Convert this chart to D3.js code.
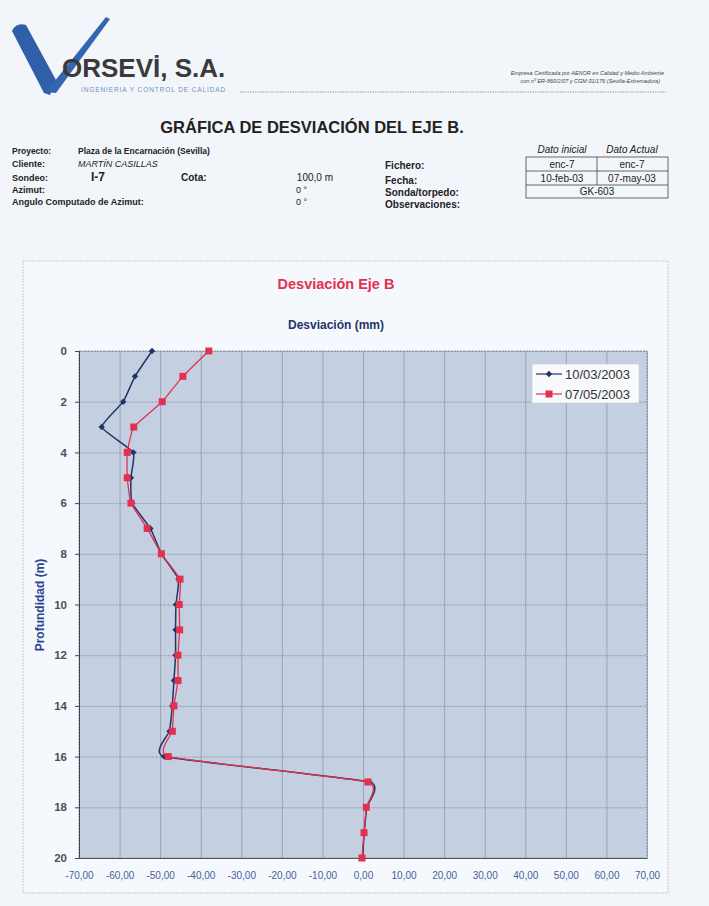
<!DOCTYPE html>
<html>
<head>
<meta charset="utf-8">
<script src="https://cdn.jsdelivr.net/npm/d3@7"></script>
<style>
  body { margin: 0; background: #f2f6fb; }
  svg { display: block; font-family: "Liberation Sans", Arial, sans-serif; }
</style>
</head>
<body>
<script>
    // profundidad (m) y desviacion (mm)
    const depths = [0, 1, 2, 3, 4, 5, 6, 7, 8, 9, 10, 11, 12, 13, 14, 15, 16, 17, 18, 19, 20];
    const serieInicial = [-52.0, -56.2, -59.1, -64.4, -56.6, -57.2, -56.9, -52.4, -49.7, -45.5, -46.1,
                          -46.2, -46.2, -46.6, -47.0, -47.7, -49.0, 1.6, 0.9, 0.3, -0.1];
    const serieActual = [-38.0, -44.4, -49.5, -56.5, -58.1, -58.1, -57.2, -53.2, -49.7, -45.1, -45.3,
                         -45.2, -45.6, -45.6, -46.6, -47.0, -48.0, 1.2, 0.8, 0.25, -0.25];
    const seriesNames = ["10/03/2003", "07/05/2003"];
    const xTicks = [-70, -60, -50, -40, -30, -20, -10, 0, 10, 20, 30, 40, 50, 60, 70];
    const yTicks = [0, 2, 4, 6, 8, 10, 12, 14, 16, 18, 20];

    const W = 709, H = 906;
    const plot = {left: 79, right: 647, top: 351, bottom: 858};
    const navy = "#1f3568", red = "#e3304f";

    var svg = d3.select("body").append("svg")
                .attr("width", W)
                .attr("height", H);

    // ---- cabecera ----
    var head = svg.append("g");

    // trazo grueso del V
    head.append("path")
        .attr("d", "M12,31 Q16,22 26,25 L56,80 L50,95 L44,93 Z")
        .attr("fill", "#2f5fa8");
    // trazo fino del V
    head.append("path")
        .attr("d", "M46,92 L106,17 L110,19 L56,93 Z")
        .attr("fill", "#3466b0");

    head.append("text")
        .attr("x", 62).attr("y", 77)
        .attr("font-size", 26).attr("font-weight", "bold")
        .attr("fill", "#3a3a3a")
        .text("ORSEVİ, S.A.");

    head.append("text")
        .attr("x", 81).attr("y", 92)
        .attr("font-size", 6.5).attr("letter-spacing", 0.9)
        .attr("fill", "#6f8fc0")
        .text("INGENIERIA Y CONTROL DE CALIDAD");

    head.append("line")
        .attr("x1", 240).attr("x2", 666).attr("y1", 92).attr("y2", 92)
        .attr("stroke", "#666").attr("stroke-width", 0.6)
        .attr("stroke-dasharray", "1.5,1");

    head.append("text")
        .attr("x", 664).attr("y", 75)
        .attr("text-anchor", "end").attr("font-size", 5.5).attr("font-style", "italic")
        .attr("fill", "#444")
        .text("Empresa Certificada por AENOR en Calidad y Medio Ambiente");
    head.append("text")
        .attr("x", 660).attr("y", 83)
        .attr("text-anchor", "end").attr("font-size", 5.5).attr("font-style", "italic")
        .attr("fill", "#444")
        .text("con nº ER-860/2/07 y CGM 01/176 (Sevilla-Extremadura)");

    head.append("text")
        .attr("x", 312).attr("y", 133)
        .attr("text-anchor", "middle").attr("font-size", 16.5).attr("font-weight", "bold")
        .attr("fill", "#222")
        .text("GRÁFICA DE DESVIACIÓN DEL EJE B.");

    // ---- datos del sondeo ----
    var info = svg.append("g").attr("fill", "#222").attr("font-size", 9);

    function txt(x, y, s, opts) {
        var t = info.append("text").attr("x", x).attr("y", y).text(s);
        opts = opts || {};
        if (opts.bold) t.attr("font-weight", "bold");
        if (opts.italic) t.attr("font-style", "italic");
        if (opts.size) t.attr("font-size", opts.size);
        if (opts.anchor) t.attr("text-anchor", opts.anchor);
        return t;
    }

    txt(12, 154, "Proyecto:", {bold: true, size: 8.5});
    txt(78, 154, "Plaza de la Encarnación (Sevilla)", {bold: true, size: 8.5});
    txt(12, 167, "Cliente:", {bold: true, size: 9});
    txt(78, 167, "MARTÍN CASILLAS", {italic: true, size: 9});
    txt(12, 181, "Sondeo:", {bold: true, size: 9});
    txt(91, 181, "I-7", {bold: true, size: 12});
    txt(181, 181, "Cota:", {bold: true, size: 10});
    txt(333, 181, "100,0 m", {size: 10, anchor: "end"});
    txt(12, 193, "Azimut:", {bold: true, size: 9});
    txt(307, 193, "0 °", {size: 9, anchor: "end"});
    txt(12, 205, "Angulo Computado de Azimut:", {bold: true, size: 9});
    txt(307, 205, "0 °", {size: 9, anchor: "end"});

    txt(385, 169, "Fichero:", {bold: true, size: 10});
    txt(385, 184, "Fecha:", {bold: true, size: 10});
    txt(385, 196, "Sonda/torpedo:", {bold: true, size: 10});
    txt(385, 208, "Observaciones:", {bold: true, size: 10});

    txt(562, 153, "Dato inicial", {italic: true, size: 10, anchor: "middle"});
    txt(632, 153, "Dato Actual", {italic: true, size: 10, anchor: "middle"});

    var tbl = svg.append("g").attr("fill", "none").attr("stroke", "#444").attr("stroke-width", 0.8);
    tbl.append("rect").attr("x", 526).attr("y", 157).attr("width", 142).attr("height", 41);
    tbl.append("line").attr("x1", 526).attr("x2", 668).attr("y1", 171).attr("y2", 171);
    tbl.append("line").attr("x1", 526).attr("x2", 668).attr("y1", 185).attr("y2", 185);
    tbl.append("line").attr("x1", 597).attr("x2", 597).attr("y1", 157).attr("y2", 185);

    txt(562, 168, "enc-7", {size: 10, anchor: "middle"});
    txt(632, 168, "enc-7", {size: 10, anchor: "middle"});
    txt(562, 182, "10-feb-03", {size: 10, anchor: "middle"});
    txt(632, 182, "07-may-03", {size: 10, anchor: "middle"});
    txt(597, 195, "GK-603", {size: 10, anchor: "middle"});

    // ---- grafica ----
    svg.append("rect")
        .attr("x", 23).attr("y", 261).attr("width", 645).attr("height", 632)
        .attr("fill", "#f5f8fc")
        .attr("stroke", "#b8bec8").attr("stroke-width", 0.8)
        .attr("stroke-dasharray", "2,1");

    var x = d3.scaleLinear().domain([-70, 70]).range([plot.left, plot.right]);
    var y = d3.scaleLinear().domain([0, 20]).range([plot.top, plot.bottom]);

    svg.append("rect")
        .attr("x", plot.left).attr("y", plot.top)
        .attr("width", plot.right - plot.left).attr("height", plot.bottom - plot.top)
        .attr("fill", "#c4d0e2");

    // rejilla
    svg.append("g")
        .attr("transform", "translate(0," + plot.bottom + ")")
        .call(d3.axisBottom(x).tickValues(xTicks).tickSize(-(plot.bottom - plot.top)).tickFormat(""))
        .call(g => g.select(".domain").remove())
        .call(g => g.selectAll("line").attr("stroke", "#8f98a6").attr("stroke-width", 0.8));

    svg.append("g")
        .attr("transform", "translate(" + plot.left + ",0)")
        .call(d3.axisLeft(y).tickValues(yTicks).tickSize(-(plot.right - plot.left)).tickFormat(""))
        .call(g => g.select(".domain").remove())
        .call(g => g.selectAll("line").attr("stroke", "#8f98a6").attr("stroke-width", 0.8)
                                      .attr("stroke-dasharray", "3,1"));

    svg.append("rect")
        .attr("x", plot.left).attr("y", plot.top)
        .attr("width", plot.right - plot.left).attr("height", plot.bottom - plot.top)
        .attr("fill", "none").attr("stroke", "#7d8594").attr("stroke-width", 0.8)
        .attr("stroke-dasharray", "2,1");

    // ejes
    var yAxis = svg.append("g")
        .attr("transform", "translate(" + plot.left + ",0)")
        .call(d3.axisLeft(y).tickValues(yTicks).tickSize(4).tickPadding(8));
    yAxis.select(".domain").attr("stroke", "#444");
    yAxis.selectAll("line").attr("stroke", "#444");
    yAxis.selectAll("text")
        .attr("font-family", "Liberation Sans, Arial, sans-serif")
        .attr("font-size", 11.5).attr("font-weight", "bold").attr("fill", "#4a4f5c");

    var xAxis = svg.append("g")
        .attr("transform", "translate(0," + plot.bottom + ")")
        .call(d3.axisBottom(x).tickValues(xTicks).tickSize(0).tickPadding(14)
                .tickFormat(d => d3.format(".2f")(d).replace(".", ",").replace("−", "-")));
    xAxis.select(".domain").attr("stroke", "#555");
    xAxis.selectAll("text")
        .attr("font-family", "Liberation Sans, Arial, sans-serif")
        .attr("font-size", 10).attr("fill", "#46609e");

    svg.append("text")
        .attr("x", 336).attr("y", 289)
        .attr("text-anchor", "middle").attr("font-size", 14.5).attr("font-weight", "bold")
        .attr("fill", red)
        .text("Desviación Eje B");

    svg.append("text")
        .attr("x", 336).attr("y", 329)
        .attr("text-anchor", "middle").attr("font-size", 12).attr("font-weight", "bold")
        .attr("fill", navy)
        .text("Desviación (mm)");

    svg.append("text")
        .attr("transform", "translate(44,605) rotate(-90)")
        .attr("text-anchor", "middle").attr("font-size", 12).attr("font-weight", "bold")
        .attr("fill", "#2b4690")
        .text("Profundidad (m)");

    // series (suavizado tipo Excel)
    var line = d3.line()
                 .x(d => x(d[0]))
                 .y(d => y(d[1]))
                 .curve(d3.curveCardinal.tension(0.6));

    var datInicial = depths.map((d, i) => [serieInicial[i], d]);
    var datActual = depths.map((d, i) => [serieActual[i], d]);

    svg.append("path")
        .datum(datInicial)
        .attr("d", line)
        .attr("fill", "none").attr("stroke", navy).attr("stroke-width", 1.5);

    svg.selectAll(".mkInicial")
        .data(datInicial)
        .enter()
        .append("path")
        .attr("class", "mkInicial")
        .attr("transform", d => "translate(" + x(d[0]) + "," + y(d[1]) + ")")
        .attr("d", d3.symbol(d3.symbolDiamond2, 26))
        .attr("fill", navy);

    svg.append("path")
        .datum(datActual)
        .attr("d", line)
        .attr("fill", "none").attr("stroke", red).attr("stroke-width", 1.3);

    svg.selectAll(".mkActual")
        .data(datActual)
        .enter()
        .append("rect")
        .attr("class", "mkActual")
        .attr("x", d => x(d[0]) - 3.5)
        .attr("y", d => y(d[1]) - 3.5)
        .attr("width", 7).attr("height", 7)
        .attr("fill", red);

    // leyenda
    var leg = svg.append("g").attr("transform", "translate(532,364)");
    leg.append("rect")
        .attr("width", 107).attr("height", 39)
        .attr("fill", "#f7f9fc").attr("stroke", "#c8ccd4").attr("stroke-width", 0.6);

    seriesNames.forEach(function(name, i) {
        var c = i == 0 ? navy : red;
        var ly = 10 + i * 20;
        leg.append("line")
            .attr("x1", 4).attr("x2", 30).attr("y1", ly).attr("y2", ly)
            .attr("stroke", c).attr("stroke-width", 1.2);
        if (i == 0) {
            leg.append("path")
                .attr("transform", "translate(17," + ly + ")")
                .attr("d", d3.symbol(d3.symbolDiamond2, 26))
                .attr("fill", c);
        } else {
            leg.append("rect")
                .attr("x", 13.5).attr("y", ly - 3.5).attr("width", 7).attr("height", 7)
                .attr("fill", c);
        }
        leg.append("text")
            .attr("x", 33).attr("y", ly + 5)
            .attr("font-size", 13).attr("fill", "#333")
            .text(name);
    });
</script>
</body>
</html>
